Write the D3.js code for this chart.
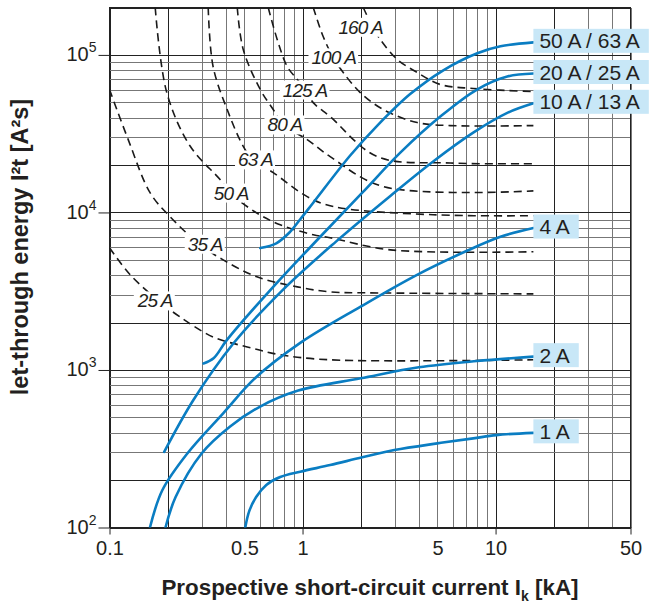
<!DOCTYPE html>
<html>
<head>
<meta charset="utf-8">
<script src="https://cdn.jsdelivr.net/npm/d3@7"></script>
<style>
  body { margin: 0; background: #fff; }
  svg { display: block; font-family: "Liberation Sans", Arial, Helvetica, sans-serif; }
</style>
</head>
<body>
<script>
const width = 649, height = 607;

// axis ticks
const xTickValues = [0.1, 0.5, 1, 5, 10, 50];
const yTickValues = [1e2, 1e3, 1e4, 1e5];

// MCB let-through curves, [kA, A²s]
const mcbLabels = ['50 A / 63 A', '20 A / 25 A', '10 A / 13 A', '4 A', '2 A', '1 A'];
const mcb50_63 = [[0.604, 5940], [0.731, 6370], [0.853, 7430], [0.973, 9050], [1.136, 11530], [1.77, 23070],
                  [2.44, 35600], [3.61, 56400], [5.36, 79900], [8.04, 102500], [10.6, 113400], [15.7, 120200]];
const mcb20_25 = [[0.307, 1100], [0.346, 1187], [0.406, 1552], [0.705, 3370], [1.235, 7010], [2.04, 13350],
                  [3.21, 23960], [5.17, 40600], [8.01, 60300], [11.5, 72900], [15.7, 76200]];
const mcb10_13 = [[0.192, 302], [0.272, 645], [0.439, 1478], [0.798, 3260], [1.495, 6550], [2.85, 12730],
                  [4.75, 21070], [7.66, 32110], [11.5, 42850], [15.7, 49300]];
const mcb4 = [[0.162, 100], [0.188, 173], [0.253, 295], [0.388, 531], [0.569, 889], [0.973, 1485],
              [1.99, 2515], [3.92, 4018], [7.11, 5710], [10.6, 7010], [15.7, 7960]];
const mcb2 = [[0.195, 100], [0.22, 156], [0.30, 295], [0.42, 436], [0.6, 584], [0.95, 740],
              [2.0, 885], [4.0, 1040], [8.0, 1140], [15.7, 1215]];
const mcb1 = [[0.505, 100], [0.5295, 127], [0.575, 156], [0.649, 186], [0.766, 209], [0.973, 226], [1.39, 249],
              [2.04, 279], [2.99, 310], [4.99, 342], [7.66, 368], [10.1, 386], [15.7, 399]];

// fuse curves (dashed), [kA, A²s]
const fuseLabels = ['25 A', '35 A', '50 A', '63 A', '80 A', '125 A', '100 A', '160 A'];
const fuse25 = [[0.1, 5970], [0.128, 4020], [0.177, 2790], [0.232, 2170], [0.344, 1620], [0.517, 1400],
                [0.766, 1250], [1.39, 1160], [15.7, 1160]];
const fuse35 = [[0.1, 60300], [0.125, 29000], [0.1625, 13300], [0.206, 9400], [0.295, 6230], [0.388, 5000],
                [0.58, 3900], [0.94, 3370], [1.39, 3130], [2.16, 3090], [15.7, 3040]];
const fuse50 = [[0.1725, 200000], [0.198, 57700], [0.262, 26300], [0.375, 16100], [0.422, 13300], [0.58, 9910],
                [0.766, 8360], [1.136, 7220], [1.39, 6910], [2.85, 5790], [15.7, 5630]];
const fuse63 = [[0.3245, 200000], [0.344, 84400], [0.407, 45000], [0.493, 26300], [0.555, 21600], [0.705, 17900],
                [1.057, 12600], [1.442, 10900], [4.75, 9670], [15.7, 9530]];
const fuse80 = [[0.459, 200000], [0.493, 108200], [0.604, 60300], [0.705, 45000], [0.794, 36100], [1.057, 29000],
                [1.39, 22600], [2.62, 14600], [15.7, 13700]];
const fuse125 = [[0.664, 200000], [0.739, 125500], [0.833, 84400], [0.939, 69800], [1.033, 60300], [1.136, 49800],
                 [1.39, 40600], [2.44, 22600], [5.82, 20600], [15.7, 20400]];
const fuse100 = [[1.136, 200000], [1.279, 130900], [1.442, 96300], [1.625, 77300], [1.99, 57700], [2.62, 45000],
                 [3.93, 37200], [5.82, 35600], [15.7, 35600]];
const fuse160 = [[2.063, 200000], [2.3, 151700], [2.527, 125500], [3.10, 93500], [3.93, 77300], [5.17, 64900],
                 [7.66, 61200], [15.7, 58500]];
// where each fuse label sits on its curve
const fuseLabelAt = [[0.1725, 2750], [0.313, 6300], [0.427, 13300], [0.57, 21600], [0.81, 36000],
                     [1.03, 60000], [1.45, 96000], [2.0, 150000]];

const mcbSeries = [mcb50_63, mcb20_25, mcb10_13, mcb4, mcb2, mcb1];
const fuseSeries = [fuse25, fuse35, fuse50, fuse63, fuse80, fuse125, fuse100, fuse160];

const blue = '#0a7dc2', boxFill = '#c8e7f7', ink = '#231f20';

const x = d3.scaleLog().domain([0.1, 50]).range([109.5, 630.5]);
const y = d3.scaleLog().domain([100, 2e5]).range([527.5, 7.5]);

const svg = d3.select('body').append('svg')
    .attr('width', width)
    .attr('height', height);

svg.append('clipPath').attr('id', 'plot-clip')
    .append('rect')
    .attr('x', x.range()[0]).attr('y', y.range()[1])
    .attr('width', x.range()[1] - x.range()[0])
    .attr('height', y.range()[0] - y.range()[1]);

function isMajor(v) {
    const m = v / Math.pow(10, Math.floor(Math.log10(v) + 1e-9));
    return Math.abs(m - 1) < 1e-6 || Math.abs(m - 2) < 1e-6;
}

function renderGrid() {
    const g = svg.append('g').attr('class', 'grid').attr('shape-rendering', 'crispEdges');

    g.selectAll('line.v').data(x.ticks()).join('line')
        .attr('class', 'v')
        .attr('x1', d => Math.round(x(d)) + 0.5).attr('x2', d => Math.round(x(d)) + 0.5)
        .attr('y1', y.range()[0]).attr('y2', y.range()[1])
        .attr('stroke', d => isMajor(d) ? '#222' : '#777');

    g.selectAll('line.h').data(y.ticks()).join('line')
        .attr('class', 'h')
        .attr('x1', x.range()[0]).attr('x2', x.range()[1])
        .attr('y1', d => Math.round(y(d)) + 0.5).attr('y2', d => Math.round(y(d)) + 0.5)
        .attr('stroke', d => isMajor(d) ? '#222' : '#777');

    g.append('rect')
        .attr('x', x.range()[0]).attr('y', y.range()[1])
        .attr('width', x.range()[1] - x.range()[0])
        .attr('height', y.range()[0] - y.range()[1])
        .attr('fill', 'none').attr('stroke', '#222');
}

function renderAxes() {
    const xAxis = d3.axisBottom(x).tickValues(xTickValues)
        .tickFormat(d3.format('~g')).tickSize(7).tickPadding(6);

    svg.append('g')
        .attr('class', 'x-axis')
        .attr('transform', 'translate(0,' + y.range()[0] + ')')
        .call(xAxis)
        .attr('font-size', 20).attr('font-family', null)
        .call(g => g.select('.domain').remove())
        .call(g => g.selectAll('.tick').filter(d => d === 0.5 || d === 5).select('line').remove())
        .call(g => g.selectAll('line').attr('stroke', '#222'))
        .call(g => g.selectAll('text').attr('fill', ink));

    const yAxis = d3.axisLeft(y).tickValues(yTickValues).tickSize(11).tickPadding(2).tickFormat(() => '');

    const gy = svg.append('g')
        .attr('class', 'y-axis')
        .attr('transform', 'translate(' + x.range()[0] + ',0)')
        .call(yAxis)
        .attr('font-size', 20).attr('font-family', null)
        .call(g => g.select('.domain').remove())
        .call(g => g.selectAll('line').attr('stroke', '#222'));

    gy.selectAll('.tick text')
        .attr('fill', ink)
        .attr('dy', '0.3em')
        .each(function(d) {
            const t = d3.select(this);
            t.append('tspan').text('10');
            t.append('tspan').attr('dy', -9).attr('font-size', 14).text(Math.round(Math.log10(d)));
        });

    svg.append('text')
        .attr('x', 370).attr('y', 595)
        .attr('text-anchor', 'middle')
        .attr('font-size', 22.4).attr('font-weight', 'bold').attr('fill', ink)
        .call(t => {
            t.append('tspan').text('Prospective short-circuit current I');
            t.append('tspan').attr('font-size', 14).attr('dy', 6).text('k');
            t.append('tspan').attr('dy', -6).text(' [kA]');
        });

    svg.append('text')
        .attr('transform', 'translate(28,247) rotate(-90)')
        .attr('text-anchor', 'middle')
        .attr('font-size', 23.5).attr('font-weight', 'bold').attr('fill', ink)
        .text('let-through energy I²t [A²s]');
}

function renderFuses() {
    const line = d3.line()
        .x(d => x(d[0])).y(d => y(d[1]))
        .curve(d3.curveCatmullRom.alpha(0.5));

    svg.append('g')
        .attr('clip-path', 'url(#plot-clip)')
        .selectAll('path').data(fuseSeries).join('path')
        .attr('d', line)
        .attr('fill', 'none')
        .attr('stroke', '#1a1a1a')
        .attr('stroke-width', 1.6)
        .attr('stroke-dasharray', '8,5');

    const labels = svg.append('g').selectAll('g').data(fuseLabels).join('g');
    labels.append('rect').attr('fill', '#fff');
    labels.append('text')
        .attr('x', (d, i) => x(fuseLabelAt[i][0]))
        .attr('y', (d, i) => y(fuseLabelAt[i][1]))
        .attr('dy', '0.35em')
        .attr('text-anchor', 'middle')
        .attr('font-size', 19).attr('font-style', 'italic')
        .attr('letter-spacing', -0.9)
        .attr('fill', ink)
        .text(d => d);
    labels.each(function() {
        const b = d3.select(this).select('text').node().getBBox();
        d3.select(this).select('rect')
            .attr('x', b.x - 3).attr('y', b.y + 1)
            .attr('width', b.width + 5).attr('height', b.height - 2);
    });
}

function renderMcbs() {
    const line = d3.line()
        .x(d => x(d[0])).y(d => y(d[1]))
        .curve(d3.curveCatmullRom.alpha(0.5));

    svg.append('g')
        .attr('clip-path', 'url(#plot-clip)')
        .selectAll('path').data(mcbSeries).join('path')
        .attr('d', line)
        .attr('fill', 'none')
        .attr('stroke', blue)
        .attr('stroke-width', 2.6)
        .attr('stroke-linecap', 'round');

    const labels = svg.append('g').selectAll('g').data(mcbLabels).join('g')
        .attr('transform', (d, i) => {
            const last = mcbSeries[i][mcbSeries[i].length - 1];
            return 'translate(' + x(last[0]) + ',' + (y(last[1]) - 1.5) + ')';
        });
    labels.append('rect')
        .attr('y', -12).attr('height', 24)
        .attr('fill', boxFill);
    labels.append('text')
        .attr('x', 6).attr('y', 7.5)
        .attr('font-size', 21)
        .attr('fill', ink)
        .text(d => d);
    labels.each(function() {
        const w = d3.select(this).select('text').node().getComputedTextLength();
        d3.select(this).select('rect').attr('width', w + 15);
    });
}

renderGrid();
renderAxes();
renderFuses();
renderMcbs();
</script>
</body>
</html>
